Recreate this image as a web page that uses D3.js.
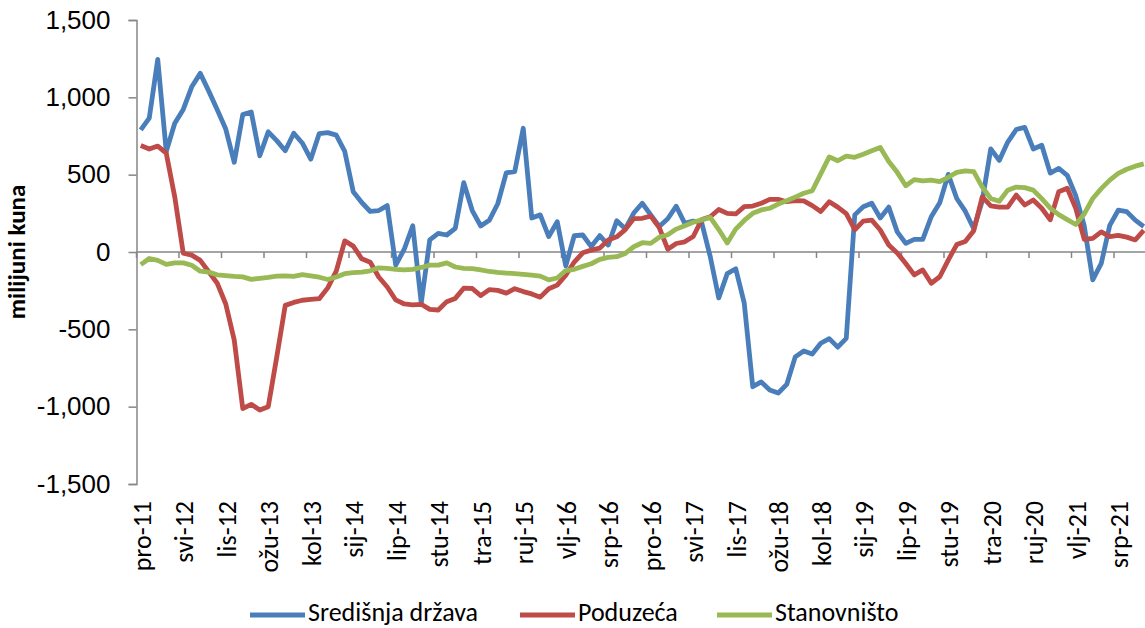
<!DOCTYPE html>
<html>
<head>
<meta charset="utf-8">
<script src="https://cdn.jsdelivr.net/npm/d3@7"></script>
<style>
  body { margin: 0; background: #fff; }
  svg { display: block; font-family: Carlito, Calibri, Lato, sans-serif; }
</style>
</head>
<body>
<svg width="1145" height="628"></svg>
<script>
const monthNames = ["sij", "vlj", "ožu", "tra", "svi", "lip", "srp", "kol", "ruj", "lis", "stu", "pro"];
const startYear = 2011, startMonth = 11, nMonths = 119;
const yTicks = [-1500, -1000, -500, 0, 500, 1000, 1500];

const central = [790, 866, 1245, 650, 832, 922, 1068, 1155, 1040, 920,
  795, 580, 888, 905, 622, 777, 720, 655, 768, 705,
  600, 766, 772, 756, 650, 390, 320, 262, 268, 300,
  -85, 18, 170, -330, 78, 121, 110, 153, 448, 268,
  168, 205, 312, 512, 520, 800, 220, 240, 100, 196,
  -90, 105, 110, 35, 106, 45, 202, 150, 252, 315,
  240, 165, 215, 296, 185, 200, 188, -30, -297, -140,
  -108, -331, -871, -840, -892, -912, -856, -678, -640, -660,
  -590, -560, -615, -558, 240, 292, 315, 220, 290, 130,
  56, 82, 82, 228, 318, 502, 346, 264, 150, 330,
  667, 592, 711, 792, 806, 666, 690, 510, 540, 496,
  364, 168, -180, -74, 172, 270, 261, 206, 165];

const firms = [688, 666, 685, 639, 356, -8, -20, -54, -128, -202,
  -336, -570, -1012, -985, -1022, -1000, -679, -345, -326, -312,
  -306, -302, -232, -124, 72, 38, -44, -66, -162, -226,
  -310, -336, -342, -338, -371, -375, -321, -300, -234, -236,
  -282, -243, -248, -266, -237, -256, -271, -292, -238, -214,
  -150, -65, -5, 12, 25, 78, 98, 145, 216, 218,
  232, 158, 18, 55, 66, 100, 210, 228, 275, 250,
  246, 293, 297, 315, 340, 340, 325, 332, 330, 300,
  262, 325, 290, 248, 144, 200, 206, 142, 45, -6,
  -74, -148, -116, -202, -160, -52, 48, 68, 138, 356,
  298, 290, 290, 368, 304, 336, 283, 208, 390, 412,
  282, 82, 88, 130, 100, 108, 96, 78, 140];

const households = [-82, -42, -54, -80, -70, -70, -86, -124, -130, -148,
  -153, -158, -161, -177, -170, -164, -156, -155, -157, -146,
  -155, -163, -178, -162, -140, -134, -130, -122, -102, -106,
  -112, -116, -112, -100, -85, -85, -70, -97, -106, -108,
  -116, -126, -132, -136, -140, -144, -150, -156, -180, -168,
  -120, -112, -93, -76, -48, -35, -30, -9, 34, 60,
  56, 95, 112, 148, 170, 192, 208, 224, 145, 58,
  148, 204, 250, 272, 283, 310, 331, 355, 380, 396,
  505, 615, 590, 620, 612, 632, 654, 676, 585, 515,
  428, 468, 460, 465, 455, 483, 515, 524, 520, 420,
  346, 328, 400, 420, 416, 400, 345, 284, 242, 209,
  178, 246, 346, 410, 465, 508, 535, 555, 570];

const seriesNames = ["Središnja država", "Poduzeća", "Stanovništo"];
const seriesColors = ["#4A7EBB", "#BE4B48", "#98B954"];
const seriesData = [central, firms, households];

const categories = d3.range(nMonths).map(i => {
  const m = (startMonth + i) % 12;
  const yr = startYear + Math.floor((startMonth + i) / 12);
  return monthNames[m] + "-" + String(yr).slice(2);
});

const svg = d3.select("svg");
const plotLeft = 136.5, plotTop = 20, plotBottom = 484, step = 8.5;
const fontSize = 26;

const x = d3.scaleBand().domain(categories).range([plotLeft, plotLeft + step * nMonths]).padding(0);
const y = d3.scaleLinear().domain([-1500, 1500]).range([plotBottom, plotTop]);
const axisColor = "#868686";
const fmt = d3.format(",");

// y axis
const yAxis = svg.append("g").attr("transform", `translate(${plotLeft},0)`)
  .call(d3.axisLeft(y).tickValues(yTicks).tickSize(8).tickPadding(18)
    .tickFormat(d => fmt(d).replace("\u2212", "-")));
yAxis.select(".domain").attr("stroke", axisColor).attr("stroke-width", 1.5);
yAxis.selectAll(".tick line").attr("stroke", axisColor).attr("stroke-width", 1.5);
yAxis.selectAll("text").attr("font-size", fontSize).attr("fill", "#000");

// x axis at zero
const y0 = y(0);
svg.append("line").attr("x1", plotLeft).attr("x2", plotLeft + step * nMonths)
  .attr("y1", y0).attr("y2", y0).attr("stroke", axisColor).attr("stroke-width", 1.5);
const labelled = categories.filter((c, i) => i % 5 === 0);
svg.append("g").selectAll("line").data(labelled).join("line")
  .attr("x1", d => x(d)).attr("x2", d => x(d))
  .attr("y1", y0).attr("y2", y0 + 6)
  .attr("stroke", axisColor).attr("stroke-width", 1.5);
svg.append("g").selectAll("text").data(labelled).join("text")
  .attr("transform", d => `translate(${x(d) + x.bandwidth() / 2 + 4},501) rotate(-90)`)
  .attr("text-anchor", "end").attr("dominant-baseline", "middle")
  .attr("font-size", fontSize).text(d => d);

// y title
svg.append("text").attr("transform", `translate(19,252) rotate(-90)`)
  .attr("text-anchor", "middle").attr("dominant-baseline", "middle")
  .attr("font-size", 25).attr("font-weight", "bold").text("milijuni kuna");

// lines
const line = d3.line()
  .x((d, i) => x(categories[i]) + x.bandwidth() / 2)
  .y(d => y(d));
svg.append("g").selectAll("path").data(seriesData).join("path")
  .attr("d", line).attr("fill", "none")
  .attr("stroke", (d, i) => seriesColors[i])
  .attr("stroke-width", 4.8).attr("stroke-linejoin", "round");

// legend
const legendX = [250, 520, 717];
const lg = svg.append("g").selectAll("g").data(seriesNames).join("g")
  .attr("transform", (d, i) => `translate(${legendX[i]},615)`);
lg.append("line").attr("x1", 0).attr("x2", 55).attr("y1", 0).attr("y2", 0)
  .attr("stroke", (d, i) => seriesColors[i]).attr("stroke-width", 4.8);
lg.append("text").attr("x", 58).attr("y", 0).attr("dominant-baseline", "middle")
  .attr("font-size", fontSize).text(d => d);
</script>
</body>
</html>
